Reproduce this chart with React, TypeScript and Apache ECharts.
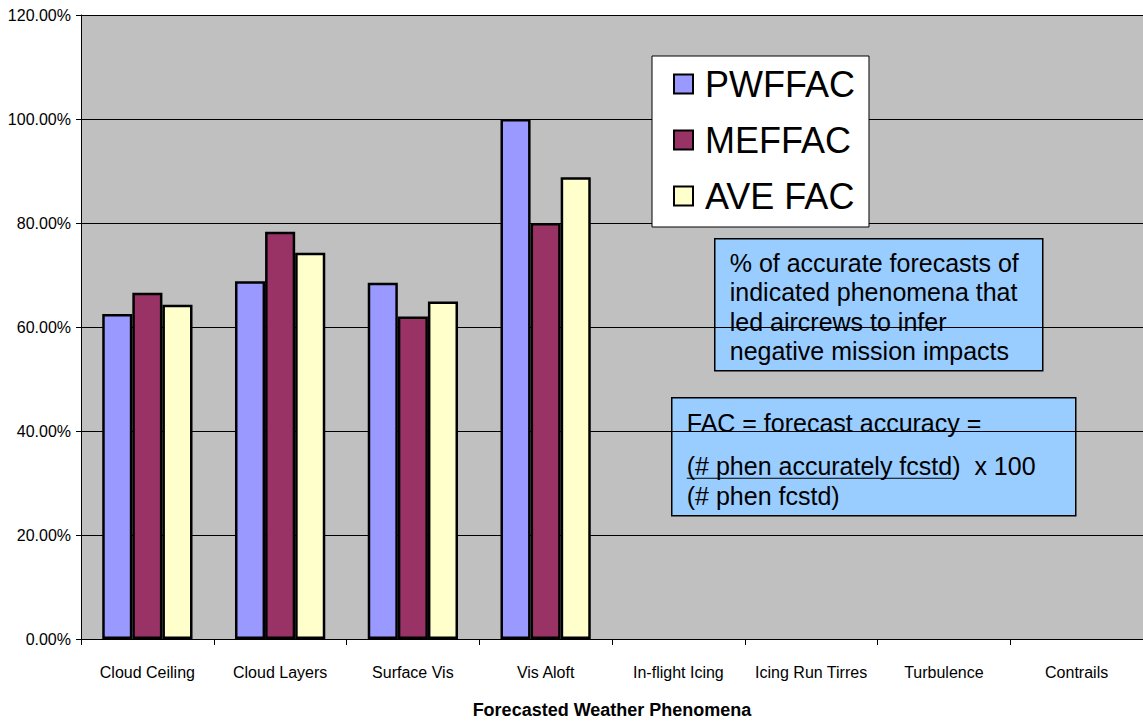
import React, { useEffect, useRef } from "react";
import * as echarts from "echarts";

// Forecast accuracy by phenomenon, in percent
const categories = [
  "Cloud Ceiling",
  "Cloud Layers",
  "Surface Vis",
  "Vis Aloft",
  "In-flight Icing",
  "Icing Run Tirres",
  "Turbulence",
  "Contrails",
];
const seriesNames = ["PWFFAC", "MEFFAC", "AVE FAC"];
const pwffac = [62.5, 68.8, 68.5, 100, null, null, null, null];
const meffac = [66.6, 78.3, 62.0, 80.0, null, null, null, null];
const aveFac = [64.3, 74.3, 64.9, 88.8, null, null, null, null];
const seriesColors = ["#9999FF", "#993366", "#FFFFCC"];

const yMin = 0;
const yMax = 120;
const yStep = 20;

const noteLines = [
  "% of accurate forecasts of",
  "indicated phenomena that",
  "led aircrews to infer",
  "negative mission impacts",
];
const facTitle = "FAC = forecast accuracy =";
const facNumerator = "(# phen accurately fcstd)";
const facTimes = "  x 100";
const facDenominator = "(# phen fcstd)";

const SANS = '"Liberation Sans", Arial, sans-serif';
const NARROW = '"Liberation Sans Narrow", "Liberation Sans", Arial, sans-serif';

export default function App() {
  const ref = useRef<HTMLDivElement>(null);

  useEffect(() => {
    if (!ref.current) return;
    const chart = echarts.init(ref.current, null, { renderer: "svg" });
    const values = [pwffac, meffac, aveFac];

    chart.setOption({
      animation: false,
      backgroundColor: "#FFFFFF",
      grid: {
        left: 81,
        top: 15,
        right: 0,
        bottom: 82,
        outerBoundsMode: "none",
        containLabel: false,
        show: true,
        backgroundColor: "#C0C0C0",
        borderWidth: 0,
      },
      legend: {
        orient: "vertical",
        left: 652,
        top: 56,
        data: seriesNames,
        icon: "rect",
        itemWidth: 19,
        itemHeight: 19,
        itemGap: 16,
        padding: [8, 14, 11, 21],
        backgroundColor: "#FFFFFF",
        borderColor: "#000000",
        borderWidth: 1,
        textStyle: {
          fontFamily: SANS,
          fontSize: 36,
          color: "#000000",
          padding: [0, 0, 0, 7],
          lineHeight: 40,
        },
      },
      xAxis: {
        type: "category",
        data: categories,
        name: "Forecasted Weather Phenomena",
        nameLocation: "middle",
        nameGap: 62,
        nameTextStyle: {
          fontFamily: SANS,
          fontSize: 18,
          fontWeight: "bold",
          color: "#000000",
        },
        axisLine: { show: true, lineStyle: { color: "#000000", width: 1 } },
        axisTick: {
          show: true,
          alignWithLabel: false,
          length: 6,
          lineStyle: { color: "#000000" },
        },
        axisLabel: {
          fontFamily: NARROW,
          fontSize: 16,
          color: "#000000",
          margin: 25,
          interval: 0,
        },
        splitLine: { show: false },
      },
      yAxis: {
        type: "value",
        min: yMin,
        max: yMax,
        interval: yStep,
        axisLine: { show: true, lineStyle: { color: "#000000", width: 1 } },
        axisTick: { show: true, length: 5, lineStyle: { color: "#000000" } },
        axisLabel: {
          fontFamily: NARROW,
          fontSize: 16,
          color: "#000000",
          margin: 10,
          formatter: (v: number) => v.toFixed(2) + "%",
        },
        splitLine: { show: true, lineStyle: { color: "#000000", width: 1 } },
      },
      series: seriesNames.map((name, i) => ({
        name,
        type: "bar",
        data: values[i],
        barGap: "0%",
        barCategoryGap: "32%",
        itemStyle: {
          color: seriesColors[i],
          borderColor: "#000000",
          borderWidth: 2.5,
        },
      })),
      graphic: [
        {
          type: "group",
          left: 714,
          top: 238,
          children: [
            {
              type: "rect",
              shape: { x: 0, y: 0, width: 328, height: 132 },
              style: { fill: "#99CCFF", stroke: "#000000", lineWidth: 1.5 },
            },
            {
              type: "text",
              x: 15,
              y: 9,
              style: {
                text: noteLines.join("\n"),
                font: `25px ${SANS}`,
                lineHeight: 29.6,
                fill: "#000000",
              },
            },
          ],
        },
        {
          type: "group",
          left: 671,
          top: 397,
          children: [
            {
              type: "rect",
              shape: { x: 0, y: 0, width: 404, height: 118 },
              style: { fill: "#99CCFF", stroke: "#000000", lineWidth: 1.5 },
            },
            {
              type: "text",
              x: 15,
              y: 25,
              style: {
                text: facTitle,
                font: `25px ${SANS}`,
                fill: "#000000",
                verticalAlign: "middle",
              },
            },
            {
              type: "text",
              x: 15,
              y: 68,
              style: {
                text: facNumerator + facTimes,
                font: `25px ${SANS}`,
                fill: "#000000",
                verticalAlign: "middle",
              },
            },
            {
              type: "line",
              shape: { x1: 15, y1: 80.5, x2: 284, y2: 80.5 },
              style: { stroke: "#000000", lineWidth: 1.2 },
            },
            {
              type: "text",
              x: 15,
              y: 98,
              style: {
                text: facDenominator,
                font: `25px ${SANS}`,
                fill: "#000000",
                verticalAlign: "middle",
              },
            },
          ],
        },
      ],
    });

    return () => chart.dispose();
  }, []);

  return (
    <div
      ref={ref}
      style={{ position: "absolute", left: 0, top: 0, width: 1143, height: 721 }}
    />
  );
}
